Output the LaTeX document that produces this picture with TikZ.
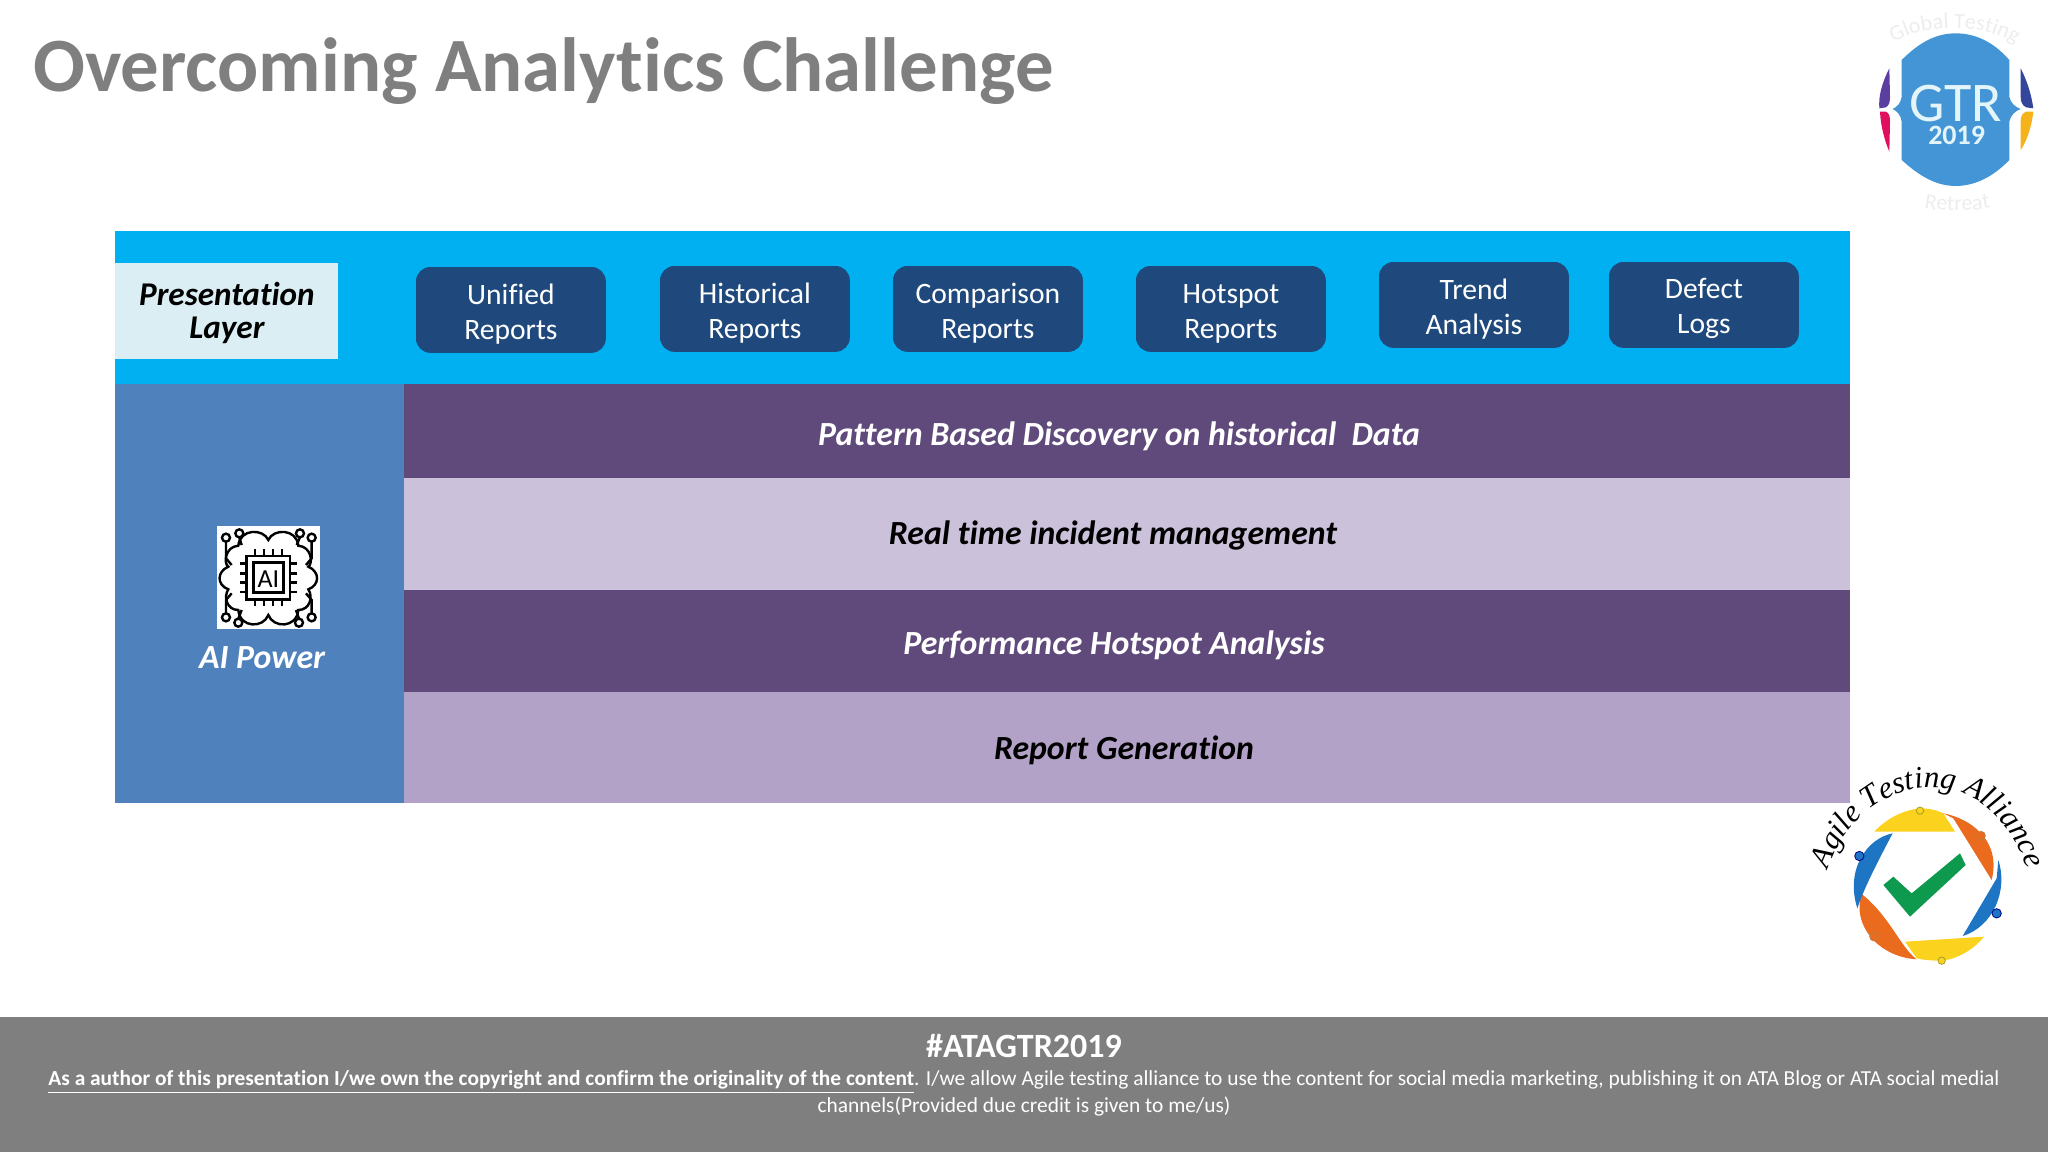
\documentclass[tikz,border=0pt]{standalone}
\usepackage{fontspec}
\setmainfont[Ligatures=NoCommon]{Carlito}
\newfontfamily\logofont{Liberation Serif}
\usetikzlibrary{decorations.text}

\definecolor{titlegray}{HTML}{7F7F7F}
\definecolor{layerblue}{HTML}{00B0F0}
\definecolor{boxblue}{HTML}{1F497D}
\definecolor{paleblue}{HTML}{DBEEF4}
\definecolor{aiblue}{HTML}{4F81BD}
\definecolor{darkpurple}{HTML}{604A7B}
\definecolor{lightpurple}{HTML}{CCC1DA}
\definecolor{midpurple}{HTML}{B3A2C7}
\definecolor{gtrblue}{HTML}{4495D5}
\definecolor{gtrtext}{HTML}{E4F5FA}
\definecolor{gtrviolet}{HTML}{5B3FA0}
\definecolor{gtrpink}{HTML}{E0105F}
\definecolor{gtrnavy}{HTML}{34469C}
\definecolor{gtrgold}{HTML}{F5B21A}
\definecolor{ataorange}{HTML}{EA6A1E}
\definecolor{atablue}{HTML}{1E75C4}
\definecolor{atayellow}{HTML}{FBD21E}
\definecolor{atagreen}{HTML}{0E9A4E}

\begin{document}
\begin{tikzpicture}[x=0.5pt,y=0.5pt,yscale=-1,xscale=1,
  reportbox/.style={draw=boxblue,fill=boxblue,rounded corners=7pt,anchor=north west,minimum width=94.5pt,minimum height=42.5pt,inner sep=0pt,align=center,text=white,font=\fontsize{14.8}{17.5}\selectfont},
  bandtext/.style={inner sep=0pt,font=\fontsize{16.9}{19}\selectfont\bfseries\itshape},
  foottext/.style={inner sep=0pt,text=white,font=\fontsize{10.7}{12}\selectfont},
  icon/.style={line width=1.2pt,draw=black}]
\useasboundingbox (0,0) rectangle (2048,1152);

% Bands
\fill [layerblue] (115,231) rectangle (1850,384);
\fill [aiblue] (115,384) rectangle (404,803);
\fill [darkpurple] (404,384) rectangle (1850,478);
\fill [lightpurple] (404,478) rectangle (1850,590);
\fill [darkpurple] (404,590) rectangle (1850,692);
\fill [midpurple] (404,692) rectangle (1850,803);
\fill [titlegray] (0,1017) rectangle (2048,1152);

% Text Node
\draw (33,91) node (title) [anchor=base west,inner sep=0pt,text=titlegray,font=\fontsize{38.4}{44}\selectfont\bfseries] {Overcoming Analytics Challenge};

\draw (115,263) node (presentation) [anchor=north west,fill=paleblue,minimum width=111.5pt,minimum height=48pt,inner sep=0pt,align=center,font=\fontsize{16.6}{16.5}\selectfont\bfseries\itshape] {\rule{0pt}{13.5pt}Presentation\\Layer};

\draw (416,267) node (unified) [reportbox] {\rule{0pt}{14pt}Unified\\Reports};
\draw (660,266) node (historical) [reportbox] {\rule{0pt}{14pt}Historical\\Reports};
\draw (893,266) node (comparison) [reportbox] {\rule{0pt}{14pt}Comparison\\Reports};
\draw (1136,266) node (hotspot) [reportbox] {\rule{0pt}{14pt}Hotspot\\Reports};
\draw (1379,262) node (trend) [reportbox] {\rule{0pt}{14pt}Trend\\Analysis};
\draw (1609,262) node (defect) [reportbox] {\rule{0pt}{14pt}Defect\\Logs};

\draw (1119,436) node (pattern) [bandtext,text=white] {Pattern Based Discovery on historical\ \ Data};
\draw (1113,535) node (incident) [bandtext] {Real time incident management};
\draw (1114,645) node (performance) [bandtext,text=white] {Performance Hotspot Analysis};
\draw (1124,750) node (generation) [bandtext] {Report Generation};
\draw (262,658) node (aipower) [bandtext,text=white] {AI Power};

\draw (1024,1046) node (hashtag) [inner sep=0pt,text=white,font=\fontsize{17}{19}\selectfont\bfseries] {\#ATAGTR2019};
\draw (1024,1082) node (notice) [foottext] {\textbf{\underline{As a author of this presentation I/we own the copyright and confirm the originality of the content}}. I/we allow Agile testing alliance to use the content for social media marketing, publishing it on ATA Blog or ATA social medial};
\draw (1024,1106) node (credit) [foottext] {channels(Provided due credit is given to me/us)};

% AI icon
\begin{scope}[shift={(100,500)},xscale=0.3333,yscale=0.3333]
\fill [white] (350,78) rectangle (660,388);
\draw [icon] (505,120) .. controls (490,85) and (420,85) .. (415,137) .. controls (375,140) and (370,190) .. (385,200) .. controls (350,215) and (350,255) .. (385,268) .. controls (370,290) and (380,330) .. (415,330) .. controls (420,385) and (490,385) .. (505,345) .. controls (520,385) and (590,385) .. (595,330) .. controls (630,330) and (640,290) .. (625,268) .. controls (660,255) and (660,215) .. (625,200) .. controls (640,190) and (635,140) .. (595,137) .. controls (590,85) and (520,85) .. (505,120) -- cycle;
\draw [icon,fill=white] (440,168) rectangle (570,298);
\draw [icon] (460,188) rectangle (550,278);
\draw [icon] (465,148) -- (465,168) (492,148) -- (492,168) (519,148) -- (519,168) (546,148) -- (546,168);
\draw [icon] (465,298) -- (465,318) (492,298) -- (492,318) (519,298) -- (519,318) (546,298) -- (546,318);
\draw [icon] (420,190) -- (440,190) (420,220) -- (440,220) (420,248) -- (440,248) (420,276) -- (440,276);
\draw [icon] (570,190) -- (590,190) (570,220) -- (590,220) (570,248) -- (590,248) (570,276) -- (590,276);
\draw [icon] (378,125) -- (378,175) -- (395,195) (418,112) -- (425,135);
\draw [icon] (635,125) -- (635,175) -- (618,195) (600,112) -- (590,135);
\draw [icon] (378,340) -- (378,300) -- (395,280) (415,356) -- (425,330);
\draw [icon] (635,340) -- (635,300) -- (618,280) (597,356) -- (588,330);
\draw [icon] (378,113) circle (12) (418,100) circle (12) (600,100) circle (12) (635,113) circle (12);
\draw [icon] (378,352) circle (12) (415,368) circle (12) (597,368) circle (12) (635,352) circle (12);
\draw (505,236) node (aichip) [inner sep=0pt,font=\fontsize{13}{14}\selectfont] {AI};
\end{scope}

% GTR badge
\begin{scope}[shift={(1780,0)},xscale=0.3333,yscale=0.3333]
\fill [gtrblue] (365,180) .. controls (420,125) and (470,100) .. (527,100) .. controls (585,100) and (640,125) .. (688,180) -- (688,290) .. controls (692,310) and (705,320) .. (722,327) .. controls (705,334) and (692,345) .. (688,365) -- (688,480) .. controls (640,530) and (585,558) .. (527,558) .. controls (470,558) and (420,530) .. (365,480) -- (365,365) .. controls (362,345) and (352,334) .. (338,327) .. controls (352,320) and (362,310) .. (365,290) -- cycle;
\fill [gtrviolet] (328,205) .. controls (305,250) and (295,290) .. (298,325) -- (318,322) .. controls (328,315) and (330,305) .. (330,290) -- cycle;
\fill [gtrpink] (300,335) .. controls (302,380) and (315,425) .. (328,455) -- (330,365) .. controls (330,350) and (328,340) .. (318,335) -- cycle;
\fill [gtrnavy] (722,205) .. controls (745,250) and (755,290) .. (760,325) -- (738,322) .. controls (726,315) and (722,305) .. (722,290) -- cycle;
\fill [gtrgold] (760,335) .. controls (755,380) and (740,425) .. (722,450) -- (722,365) .. controls (722,350) and (726,340) .. (738,335) -- cycle;
\draw (527,310) node (gtrname) [inner sep=0pt,text=gtrtext,font=\fontsize{28}{30}\selectfont] {GTR};
\draw (530,405) node (gtryear) [inner sep=0pt,text=gtrtext,font=\fontsize{14}{16}\selectfont\bfseries] {2019};
\path [decorate,decoration={text along path,text align=center,text={|\fontsize{11}{12}\selectfont\color{black!7}|Global Testing}}] (285,190) .. controls (350,50) and (690,50) .. (765,190);
\path [decorate,decoration={text along path,text align=center,text={|\fontsize{11}{12}\selectfont\color{black!7}|Retreat}}] (385,610) .. controls (450,640) and (600,640) .. (680,610);
\end{scope}

% ATA logo
\begin{scope}[shift={(1780,750)},xscale=0.3333,yscale=0.3333]
\fill [atayellow] (283,245) .. controls (320,205) and (370,180) .. (420,175) .. controls (450,175) and (475,182) .. (490,190) -- (525,245) -- cycle;
\fill [ataorange] (490,190) .. controls (570,205) and (665,270) .. (635,390) -- (520,205) -- cycle;
\fill [atablue] (655,330) .. controls (685,420) and (640,530) .. (548,558) -- (650,385) -- cycle;
\fill [atayellow] (375,575) -- (612,560) .. controls (580,600) and (530,628) .. (485,632) .. controls (455,632) and (430,630) .. (410,625) -- cycle;
\fill [ataorange] (245,432) .. controls (215,520) and (290,620) .. (410,628) .. controls (360,590) and (330,500) .. (245,432) -- cycle;
\fill [atablue] (338,250) .. controls (260,265) and (195,360) .. (232,475) .. controls (250,420) and (290,340) .. (338,250) -- cycle;
\fill [atagreen] (310,405) -- (340,380) -- (395,430) -- (540,310) -- (557,345) -- (390,500) -- cycle;
\draw [fill=atayellow,draw=olive!80!white,line width=0.4pt] (420,182) circle (11) (485,632) circle (11);
\draw [fill=ataorange,draw=brown,line width=0.4pt] (603,257) circle (13) (282,560) circle (13);
\draw [fill=atablue,draw=blue!50!black,line width=0.4pt] (238,318) circle (14) (650,490) circle (14);
\path [decorate,decoration={text along path,text align=center,text={|\logofont\itshape\fontsize{15.5}{17}\selectfont|Agile Testing Alliance}}] (122,435) .. controls (205,20) and (685,-10) .. (758,435);
\end{scope}

\end{tikzpicture}
\end{document}
